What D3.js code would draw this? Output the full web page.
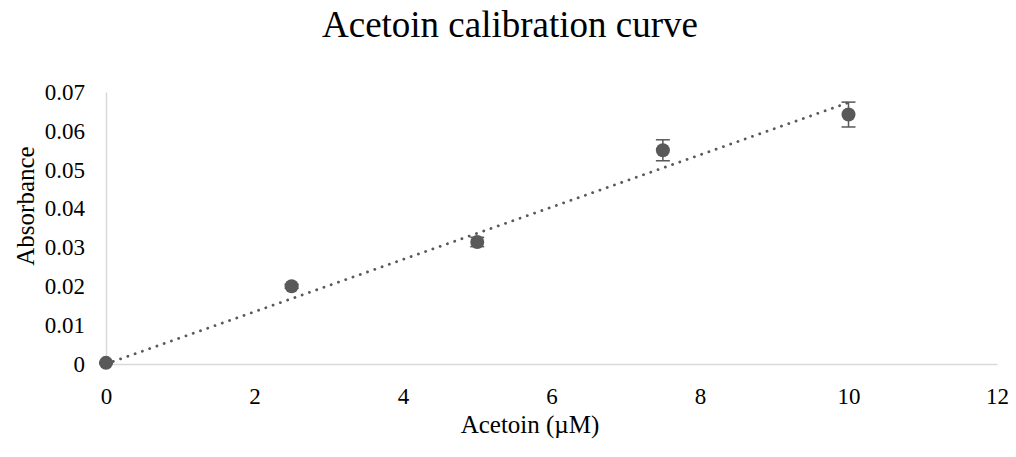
<!DOCTYPE html>
<html>
<head>
<meta charset="utf-8">
<script src="https://cdn.jsdelivr.net/npm/d3@7/dist/d3.min.js"></script>
<style>
  body { margin: 0; background: #fff; }
  svg text { font-family: "Liberation Serif", "Times New Roman", serif !important; fill: #000; }
</style>
</head>
<body>
<div id="chart"></div>
<script>
// data
var concentration = [0, 2.5, 5, 7.5, 10];
var absorbance = [0.0003, 0.0200, 0.0314, 0.0550, 0.0642];
var errors = [0.0002, 0.0005, 0.0012, 0.0027, 0.0032];
var xTicks = [0, 2, 4, 6, 8, 10, 12];
var yTicks = [0, 0.01, 0.02, 0.03, 0.04, 0.05, 0.06, 0.07];

var width = 1016, height = 457;
var svg = d3.select("#chart").append("svg")
    .attr("width", width)
    .attr("height", height);

var xScale = d3.scaleLinear().domain([0, 12]).range([106, 997]);
var yScale = d3.scaleLinear().domain([0, 0.07]).range([364, 92]);

// title
svg.append("text")
    .attr("x", 510).attr("y", 37)
    .attr("text-anchor", "middle")
    .style("font-size", "37px")
    .text("Acetoin calibration curve");

// axes (only the lines, no ticks)
var xAxis = svg.append("g")
    .attr("transform", "translate(0," + yScale(0) + ")")
    .call(d3.axisBottom(xScale).tickValues(xTicks).tickSize(0).tickPadding(24)
        .tickFormat(d3.format("d")));
var yAxis = svg.append("g")
    .attr("transform", "translate(" + xScale(0) + ",0)")
    .call(d3.axisLeft(yScale).tickValues(yTicks).tickSize(0).tickPadding(21)
        .tickFormat(function(d) { return d === 0 ? "0" : d3.format(".2f")(d); }));

[xAxis, yAxis].forEach(function(ax) {
    ax.attr("font-family", "Liberation Serif").attr("font-size", 23);
    ax.select(".domain").attr("stroke", "#d9d9d9").attr("stroke-width", 1.5);
    ax.selectAll("text").attr("fill", "#000");
});
xAxis.selectAll("text").attr("dy", "0.71em");

// axis titles
svg.append("text")
    .attr("x", 530).attr("y", 433)
    .attr("text-anchor", "middle")
    .style("font-size", "25px")
    .text("Acetoin (\u00b5M)");
svg.append("text")
    .attr("transform", "translate(34,206) rotate(-90)")
    .attr("text-anchor", "middle")
    .style("font-size", "25px")
    .text("Absorbance");

// linear trendline through the origin (least squares)
var sxy = d3.sum(concentration, function(d, i) { return d * absorbance[i]; });
var sxx = d3.sum(concentration, function(d) { return d * d; });
var slope = sxy / sxx;
var xMax = d3.max(concentration);
svg.append("line")
    .attr("x1", xScale(0)).attr("y1", yScale(0))
    .attr("x2", xScale(xMax)).attr("y2", yScale(slope * xMax))
    .attr("stroke", "#595959")
    .attr("stroke-width", 2.8)
    .attr("stroke-linecap", "round")
    .attr("stroke-dasharray", "0.1 7.6");

var points = concentration.map(function(d, i) {
    return { x: d, y: absorbance[i], e: errors[i] };
});

// error bars
var bars = svg.append("g").selectAll("g").data(points).enter().append("g");
bars.append("line")
    .attr("x1", function(d) { return xScale(d.x); })
    .attr("x2", function(d) { return xScale(d.x); })
    .attr("y1", function(d) { return yScale(d.y - d.e); })
    .attr("y2", function(d) { return yScale(d.y + d.e); })
    .attr("stroke", "#595959").attr("stroke-width", 1.5);
[-1, 1].forEach(function(s) {
    bars.append("line")
        .attr("x1", function(d) { return xScale(d.x) - 7; })
        .attr("x2", function(d) { return xScale(d.x) + 7; })
        .attr("y1", function(d) { return yScale(d.y + s * d.e); })
        .attr("y2", function(d) { return yScale(d.y + s * d.e); })
        .attr("stroke", "#595959").attr("stroke-width", 1.5);
});

// markers
svg.append("g").selectAll("circle").data(points).enter().append("circle")
    .attr("cx", function(d) { return xScale(d.x); })
    .attr("cy", function(d) { return yScale(d.y); })
    .attr("r", 7)
    .attr("fill", "#595959");
</script>
</body>
</html>
